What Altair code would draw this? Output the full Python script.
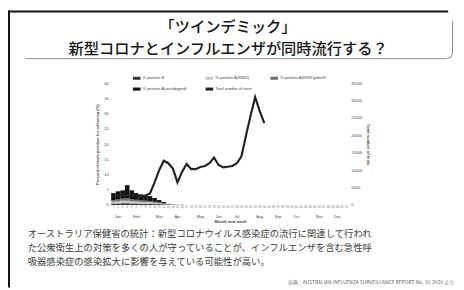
import altair as alt
import pandas as pd

# ---------------- data ----------------
weeks = list(range(1, 53))
bar_weeks = list(range(1, 17))
pos_B = [0.5, 0.5, 0.6, 0.6, 0.5, 0.5, 0.4, 0.4, 0.4, 0.3, 0.3, 0.2, 0.1, 0.05, 0.03, 0.02]
pos_H3N2 = [0.6, 0.7, 0.8, 0.8, 0.7, 0.6, 0.6, 0.5, 0.5, 0.4, 0.3, 0.2, 0.1, 0.05, 0.03, 0.03]
pos_H1N1 = [0.5, 0.6, 0.7, 0.8, 0.7, 0.6, 0.5, 0.5, 0.4, 0.4, 0.3, 0.2, 0.1, 0.05, 0.03, 0.02]
pos_unsub = [2.3, 2.7, 2.7, 4.3, 2.9, 2.2, 2.0, 1.7, 1.6, 1.2, 0.7, 0.4, 0.1, 0.05, 0.01, 0.03]

test_weeks = list(range(1, 35))
total_tests = [2500, 2600, 2800, 2900, 2800, 2600, 2500, 2700, 3300, 6500,
               10000, 12700, 12000, 10500, 6500, 9500, 11800, 10300, 10300, 10900,
               11200, 12000, 13600, 11500, 10800, 11000, 11200, 12000, 14000, 20000,
               25700, 31000, 27000, 23500]

months = ["Jan", "Feb", "Mar", "Apr", "May", "Jun", "Jul", "Aug", "Sep", "Oct", "Nov", "Dec"]
month_weeks = [2, 6, 11, 15, 20, 24, 28, 33, 37, 41, 46, 50]

series_names = ["% positive B", "% positive A(H3N2)", "% positive A(H1N1)pdm09",
                "% positive A(unsubtyped)", "Total number of tests"]
series_colors = ["#3a3a3a", "#c9c9c9", "#707070", "#111111", "#222222"]

title_text = "「ツインデミック」\n新型コロナとインフルエンザが同時流行する？"
body_text = ("オーストラリア保健省の統計：新型コロナウイルス感染症の流行に関連して行われ\n"
             "た公衆衛生上の対策を多くの人が守っていることが、インフルエンザを含む急性呼\n"
             "吸器感染症の感染拡大に影響を与えている可能性が高い。")
source_text = "出典：AUSTRALIAN INFLUENZA SURVEILLANCE REPORT No. 10, 2020 より"

# ---------------- frames ----------------
rows = []
for order, (name, vals) in enumerate(zip(series_names[:4], [pos_B, pos_H3N2, pos_H1N1, pos_unsub])):
    for w, v in zip(bar_weeks, vals):
        rows.append({"week": w, "value": v, "series": name, "o": order})
bars_df = pd.DataFrame(rows)
tests_df = pd.DataFrame({"week": test_weeks, "tests": total_tests,
                         "series": series_names[4]})
months_df = pd.DataFrame({"week": month_weeks, "month": months})
one = pd.DataFrame({"k": [0]})

FONT = "Liberation Sans"
GRAY = "#444444"

xscale = alt.Scale(domain=weeks, paddingInner=0, paddingOuter=0)
color_scale = alt.Scale(domain=series_names, range=series_colors)

bars = alt.Chart(bars_df).mark_bar().encode(
    x=alt.X("week:O", scale=xscale,
            axis=alt.Axis(title="Month and week", labelAngle=0, labelFontSize=3,
                          labelColor="#777", labelPadding=1, ticks=False, domain=False,
                          labelOverlap=False, titleFontSize=4.2, titleFontWeight="bold",
                          titleColor=GRAY, titlePadding=11, labelFont=FONT, titleFont=FONT)),
    y=alt.Y("value:Q", stack="zero", scale=alt.Scale(domain=[0, 40]),
            axis=alt.Axis(title="Percent of tests positive for influenza (%)",
                          values=list(range(0, 41, 5)), labelFontSize=4, labelColor=GRAY,
                          ticks=False, domain=False, grid=False, labelPadding=3,
                          titleFontSize=4.2, titleFontWeight="bold", titleColor=GRAY,
                          titlePadding=4, labelFont=FONT, titleFont=FONT)),
    color=alt.Color("series:N", scale=color_scale,
                    legend=alt.Legend(title=None, orient="none", legendX=22, legendY=-9,
                                      columns=3, direction="horizontal",
                                      labelFontSize=4, labelColor=GRAY,
                                      labelFont=FONT, symbolType="M-1,-0.4H1V0.4H-1Z",
                                      symbolSize=60, symbolStrokeWidth=0,
                                      rowPadding=5, columnPadding=18, labelOffset=2)),
    order=alt.Order("o:Q"),
)

line = alt.Chart(tests_df).mark_line(strokeWidth=2.2).encode(
    x=alt.X("week:O", scale=xscale),
    y=alt.Y("tests:Q", scale=alt.Scale(domain=[0, 35000]),
            axis=alt.Axis(title="Total number of tests", orient="right",
                          values=list(range(0, 35001, 5000)), format="d",
                          labelFontSize=4, labelColor=GRAY, ticks=False, domain=False,
                          grid=False, labelPadding=2, titleFontSize=4.2,
                          titleFontWeight="bold", titleColor=GRAY, titlePadding=4,
                          labelFont=FONT, titleFont=FONT)),
    color=alt.Color("series:N", scale=color_scale),
)

month_text = alt.Chart(months_df).mark_text(fontSize=4, font=FONT, color=GRAY).encode(
    x=alt.X("week:O", scale=xscale),
    y=alt.value(136),
    text="month:N",
)

title = alt.Chart(pd.DataFrame({"t": [title_text]})).mark_text(
    font="Noto Sans CJK JP", fontSize=15.5, lineBreak="\n", lineHeight=22.5,
    align="center", baseline="middle", color="#151515", fontWeight=500
).encode(x=alt.value(119), y=alt.value(-57), text="t:N")

body = alt.Chart(pd.DataFrame({"t": [body_text]})).mark_text(
    font="Noto Sans CJK JP", fontSize=9.5, lineBreak="\n", lineHeight=13.8,
    align="left", baseline="middle", color="#3a3a3a"
).encode(x=alt.value(-85), y=alt.value(154), text="t:N")

source = alt.Chart(pd.DataFrame({"t": [source_text]})).mark_text(
    font="Noto Sans CJK JP", fontSize=5, align="right", baseline="middle", color="#666"
).encode(x=alt.value(349), y=alt.value(202), text="t:N")

# slide decorations
top_border = alt.Chart(one).mark_rule(color="#111", strokeWidth=2).encode(
    x=alt.value(-105), x2=alt.value(343), y=alt.value(-73))
left_border = alt.Chart(one).mark_rule(color="#111", strokeWidth=2).encode(
    x=alt.value(-104), y=alt.value(-74), y2=alt.value(208))
underline = alt.Chart(one).mark_rule(color="#8a8a8a", strokeWidth=1).encode(
    x=alt.value(-87), x2=alt.value(342), y=alt.value(-25))
vline = alt.Chart(one).mark_rule(color="#8a8a8a", strokeWidth=1).encode(
    x=alt.value(347.5), y=alt.value(-63), y2=alt.value(-31))
corner = alt.Chart(one).mark_arc(theta=1.5708, theta2=3.1416, radius=6, radius2=5,
                                 color="#8a8a8a").encode(
    x=alt.value(342), y=alt.value(-31))

chart = alt.layer(
    bars, line, month_text, title, body, source,
    top_border, left_border, underline, vline, corner
).resolve_scale(y="independent").properties(
    width=242, height=124,
    padding={"left": 105, "top": 74, "right": 109, "bottom": 84},
    autosize=alt.AutoSizeParams(type="none"),
    background="white",
).configure_view(stroke=None)

chart.save("out.html", embed_options={"renderer": "svg", "actions": False})
